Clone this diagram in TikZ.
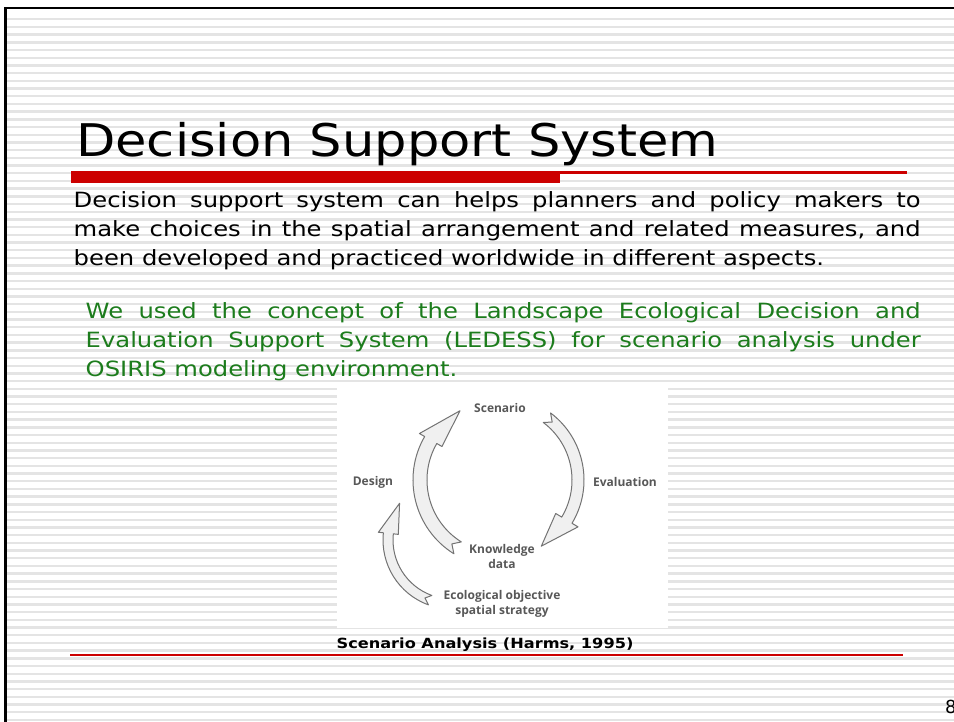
\documentclass[tikz,border=0pt]{standalone}
\usepackage{fontspec}
\setmainfont{DejaVu Sans}
\newfontfamily\titlefont[FakeStretch=1.135]{DejaVu Sans}
\newfontfamily\bodyfont[FakeStretch=1.155]{DejaVu Sans}
\newfontfamily\figfont{Open Sans}
\usetikzlibrary{positioning,calc}
\hyphenpenalty=10000
\exhyphenpenalty=10000
\definecolor{slidegreen}{RGB}{28,124,28}
\definecolor{slidered}{RGB}{204,0,0}
\definecolor{stripegray}{RGB}{228,228,228}
\definecolor{figgray}{RGB}{88,88,88}
\tikzset{
  stripe/.style={fill=stripegray},
  redbar/.style={fill=slidered},
  para/.style={anchor=base west, inner sep=0mm, text width=847pt, align=justify,
    font=\bodyfont\fontsize{21}{29}\selectfont
  },
  figlabel/.style={inner sep=0mm, align=center, text=figgray,
    font=\figfont\bfseries\fontsize{12}{15}\selectfont
  },
  cyclearrow/.style={draw=black!55, fill=black!6, line width=1pt, line join=round}
}
\newcommand{\bandarrow}[7]{%
  \filldraw[cyclearrow] ($(#1)+({#4}:{#2+#3})$)
    arc[start angle={#4}, end angle={#5-#6}, radius={#2+#3}]
    -- ($(#1)+({#5-#6}:{#2+#3+#7})$) -- ($(#1)+({#5}:{#2})$)
    -- ($(#1)+({#5-#6}:{#2-#3-#7})$) -- ($(#1)+({#5-#6}:{#2-#3})$)
    arc[start angle={#5-#6}, end angle={#4}, radius={#2-#3}]
    -- ($(#1)+({#4+5}:{#2})$) -- cycle;}

\begin{document}
\begin{tikzpicture}[x=1pt, y=-1pt]
   \useasboundingbox (0,0) rectangle (954,721);
   \clip (0,0) rectangle (954,721);
   \fill[white] (0,0) rectangle (954,721);
   \foreach \y in {18,25.7,...,721}
      \fill[stripe] (7,\y) rectangle (954,\y+2.4);
   \draw[line width=2.5pt] (5.5,8) rectangle (1000,800);

   \node[anchor=base west, inner sep=0mm, font=\titlefont\fontsize{45}{45}\selectfont]
      (title) at (76,156) {Decision Support System};
   \fill[redbar] (71,171) rectangle (560,183);
   \fill[redbar] (560,171) rectangle (907,173.5);

   \node[para] (intro) at (73.5,207) {Decision support system can helps planners and policy makers to\linebreak make choices in the spatial arrangement and related measures, and\linebreak been developed and practiced worldwide in different aspects.};
   \node[para, text width=835pt, text=slidegreen] (ledess) at (85.5,318) {We used the concept of the Landscape Ecological Decision and\linebreak Evaluation Support System (LEDESS) for scenario analysis under\linebreak OSIRIS modeling environment.};

   \fill[white] (337,387) rectangle (668,628);
   \coordinate (loopc) at (500,480);
   \coordinate (lowc) at (452,540);
   \bandarrow{loopc}{80}{7}{122}{240}{30}{6}
   \bandarrow{loopc}{78}{6}{-53}{58}{27}{7}
   \bandarrow{lowc}{64}{5}{110}{215}{29}{5}

   \node[figlabel] (scenario) at (500,408) {Scenario};
   \node[figlabel] (design) at (373,482) {Design};
   \node[figlabel] (evaluation) at (625,482) {Evaluation};
   \node[figlabel] (knowledge) at (502,556) {Knowledge\\data};
   \node[figlabel] (objective) at (502,604) {Ecological objective\\spatial strategy};

   \node[anchor=base, inner sep=0mm, font=\bodyfont\bfseries\fontsize{14}{14}\selectfont]
      (caption) at (485,648) {Scenario Analysis (Harms, 1995)};
   \fill[redbar] (70,654) rectangle (903,656);
   \node[anchor=base west, inner sep=0mm, font=\fontsize{18}{18}\selectfont]
      (pagenum) at (945,713) {8};
\end{tikzpicture}
\end{document}
